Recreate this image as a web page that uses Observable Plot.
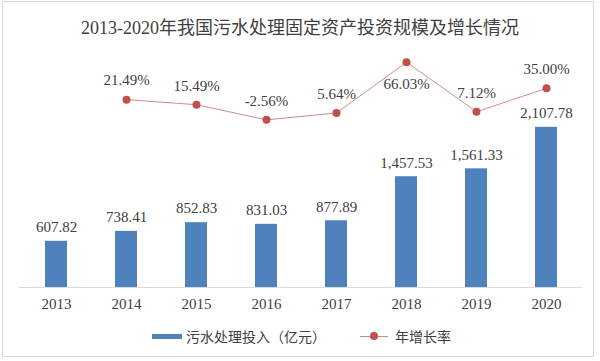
<!DOCTYPE html>
<html>
<head>
<meta charset="utf-8">
<script src="https://cdn.jsdelivr.net/npm/d3@7"></script>
<script src="https://cdn.jsdelivr.net/npm/@observablehq/plot@0.6"></script>
<style>
  html, body { margin: 0; padding: 0; background: #fff; }
  #chart { position: relative; width: 600px; height: 361px; overflow: hidden; background: #fff;
    font-family: "Liberation Serif", "Noto Sans CJK SC", serif; color: #404040; }
  #frame { position: absolute; left: 2px; top: 1px; width: 592px; height: 356px; border: 1px solid #d9d9d9; box-sizing: border-box; }
  #title { position: absolute; left: 0; top: 17px; width: 600px; height: 22px; line-height: 22px; text-align: center; font-size: 18px; color: #404040; }
  #chart svg { position: absolute; left: 0; top: 0; }
  #legend { position: absolute; left: 152px; top: 326px; height: 20px; display: flex; align-items: center; font-size: 14px; color: #404040; white-space: nowrap; }
  .sw { width: 30px; height: 5px; background: #4f81bd; margin-right: 4px; }
  .ln { position: relative; width: 28px; height: 1px; background: #d48b89; margin-left: 34px; margin-right: 7px; }
  .ln::after { content: ""; position: absolute; left: 10px; top: -4px; width: 8px; height: 8px; border-radius: 50%; background: #c0504d; }
</style>
</head>
<body>
<div id="chart">
  <div id="frame"></div>
  <div id="title">2013-2020年我国污水处理固定资产投资规模及增长情况</div>
  <div id="legend"><span class="sw"></span><span>污水处理投入（亿元）</span><span class="ln"></span><span>年增长率</span></div>
</div>
<script>
const years = ["2013", "2014", "2015", "2016", "2017", "2018", "2019", "2020"];
const investment = [607.82, 738.41, 852.83, 831.03, 877.89, 1457.53, 1561.33, 2107.78];
const growth = [null, 21.49, 15.49, -2.56, 5.64, 66.03, 7.12, 35.00];

const bars = years.map((year, i) => ({year, value: investment[i]}));
const rates = years.map((year, i) => ({year, rate: growth[i]})).filter(d => d.rate != null);

const xOpts = {domain: years, paddingInner: 0.69, paddingOuter: 0.345};
const fmtBar = d3.format(",.2f");
const fmtPct = v => v.toFixed(2) + "%";
const font = '"Liberation Serif", "Noto Sans CJK SC", serif';

const chart = document.getElementById("chart");

const p1 = Plot.plot({
  width: 600, height: 361,
  marginLeft: 19, marginRight: 18, marginTop: 97, marginBottom: 74,
  style: {background: "transparent", fontFamily: font, fontSize: "15px", color: "#404040"},
  x: {...xOpts, label: null},
  y: {domain: [0, 2500], range: [287, 97], axis: null},
  marks: [
    Plot.barY(bars, {x: "year", y: "value", fill: "#4f81bd"}),
    Plot.ruleY([0], {stroke: "#d9d9d9", strokeWidth: 1}),
    Plot.text(bars, {x: "year", y: "value", text: d => fmtBar(d.value), dy: -14, fill: "#404040", fontSize: 15}),
    Plot.axisX({anchor: "bottom", tickSize: 0, tickPadding: 11, fontSize: 15, fill: "#404040", label: null})
  ]
});

const p2 = Plot.plot({
  width: 600, height: 361,
  marginLeft: 19, marginRight: 18, marginTop: 0, marginBottom: 0,
  style: {background: "transparent", fontFamily: font, fontSize: "15px", color: "#404040"},
  x: {...xOpts, axis: null},
  y: {domain: [-20, 80], range: [134, 50], axis: null},
  marks: [
    Plot.line(rates, {x: "year", y: "rate", stroke: "#d48b89", strokeWidth: 1}),
    Plot.dot(rates, {x: "year", y: "rate", r: 4, fill: "#c0504d", stroke: "none"}),
    Plot.text(rates, {filter: d => d.rate < 50, x: "year", y: "rate", text: d => fmtPct(d.rate), dy: -19, fill: "#404040", fontSize: 15}),
    Plot.text(rates, {filter: d => d.rate >= 50, x: "year", y: "rate", text: d => fmtPct(d.rate), dy: 22, fill: "#404040", fontSize: 15})
  ]
});

chart.appendChild(p1);
chart.appendChild(p2);
</script>
</body>
</html>
